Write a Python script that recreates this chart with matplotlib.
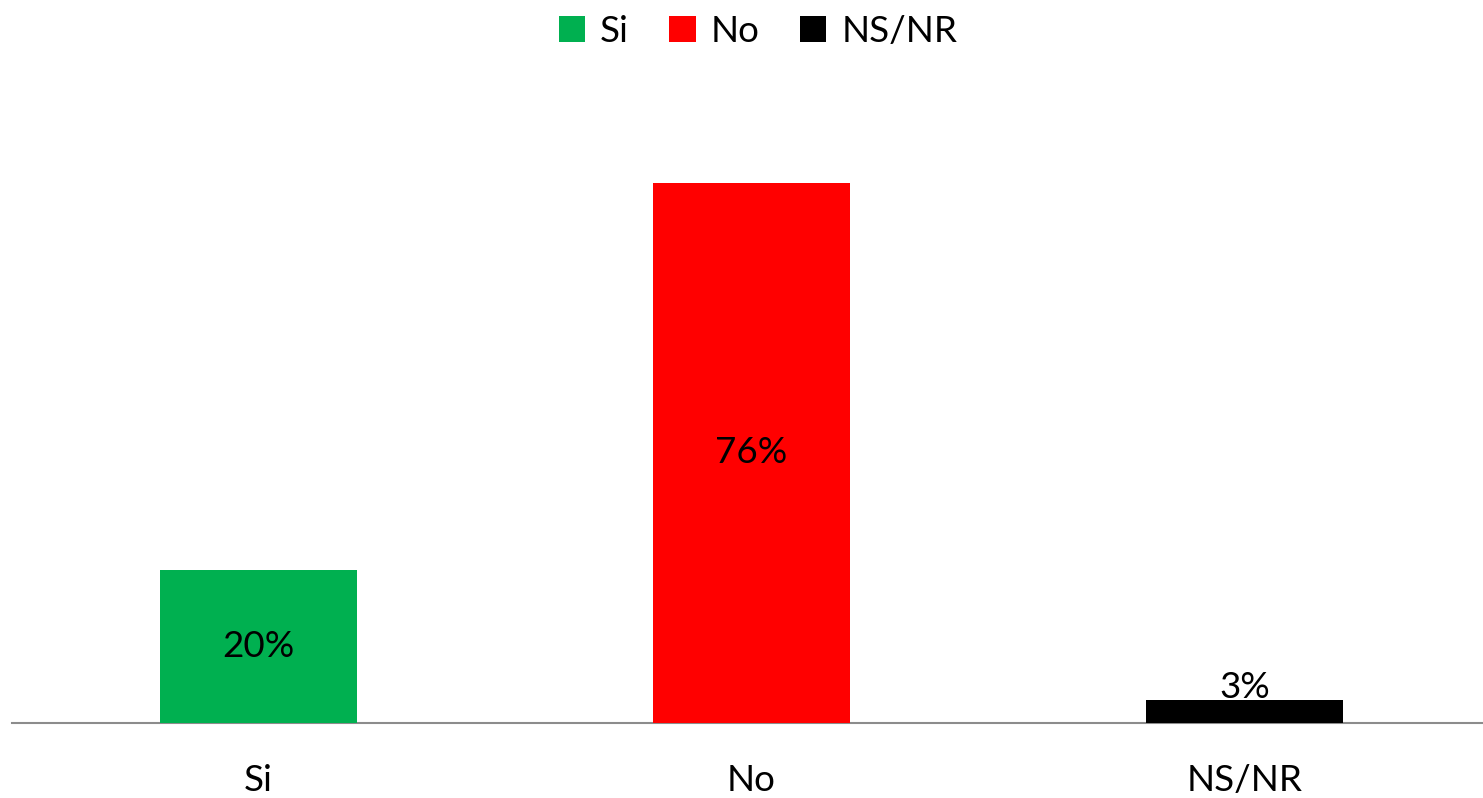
import matplotlib
matplotlib.use("Agg")
import matplotlib.pyplot as plt
from matplotlib.patches import Patch

categories = ["Si", "No", "NS/NR"]
values = [21.5, 76.0, 3.1]
value_labels = ["20%", "76%", "3%"]
colors = ["#00B050", "#FF0000", "#000000"]

plt.rcParams['font.family'] = ['Lato', 'DejaVu Sans']

W, H = 1483, 798
fig = plt.figure(figsize=(W / 100, H / 100), dpi=100)
ax = fig.add_axes([12 / W, 1 - 722.5 / H, 1479 / W, 640 / H])

x = list(range(len(categories)))
bars = ax.bar(x, values, width=0.4, color=colors, zorder=3)
ax.set_xlim(-0.5, 2.5)
ax.set_ylim(0, 640 / 7.1)

for i, (b, v, lab) in enumerate(zip(bars, values, value_labels)):
    if v > 10:
        ax.text(b.get_x() + b.get_width() / 2, v / 2, lab, ha='center', va='center',
                fontsize=26.5, color='black', zorder=4)
    else:
        ax.annotate(lab, (b.get_x() + b.get_width() / 2, v), xytext=(0, 9),
                    textcoords='offset points', ha='center', va='center',
                    fontsize=26.5, color='black', zorder=4)

for s in ['top', 'right', 'left']:
    ax.spines[s].set_visible(False)
ax.spines['bottom'].set_color('#8c8c8c')
ax.spines['bottom'].set_linewidth(1.5)
ax.set_yticks([])
ax.set_xticks(x)
ax.set_xticklabels(categories, fontsize=26.5)
ax.tick_params(axis='x', length=0, pad=30)

handles = [Patch(facecolor=c, edgecolor='none') for c in colors]
fig.legend(handles, categories, loc='center', bbox_to_anchor=(758 / W, 1 - 31 / H),
           ncol=3, frameon=False, fontsize=26.5, handlelength=0.72, handleheight=0.72,
           handletextpad=0.4, columnspacing=1.1)

fig.savefig("out.png", dpi=100)
